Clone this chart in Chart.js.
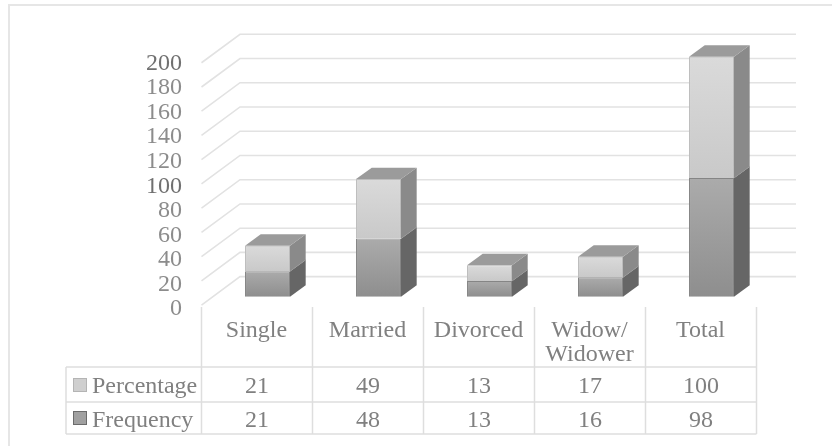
<!DOCTYPE html>
<html>
<head>
<meta charset="utf-8">
<title>Marital status</title>
<script src="https://cdn.jsdelivr.net/npm/chart.js@4/dist/chart.umd.min.js"></script>
<style>
  html, body { margin: 0; padding: 0; background: #fff; }
  #wrap { position: relative; width: 832px; height: 446px; overflow: hidden; }
  #frame { position: absolute; left: 8px; top: 4px; width: 900px; height: 500px; border: 2px solid #e6e6e6; box-sizing: border-box; }
  canvas { position: absolute; left: 0; top: 0; }
</style>
</head>
<body>
<div id="wrap">
  <div id="frame"></div>
  <canvas id="statusChart" width="832" height="446"></canvas>
</div>
<script>
const categories = ['Single', 'Married', 'Divorced', ['Widow/', 'Widower'], 'Total'];
const frequency = [21, 48, 13, 16, 98];
const percentage = [21, 49, 13, 17, 100];
const yTicks = [0, 20, 40, 60, 80, 100, 120, 140, 160, 180, 200];

const SERIF = '"Liberation Serif", serif';
const TEXT = '#808080';
const LINE = '#e2e2e2';

// box depth of the columns, and of the floor they stand on
const BAR_DX = 15.7, BAR_DY = 11.4;
const WALL_DX = 38.5, WALL_DY = 28.5;
const WALL_RIGHT = 796;

function stackGradient(context, values, below, colors) {
    const { chart, dataIndex } = context;
    const y = chart.scales.y;
    if (!y || y.bottom === undefined) return colors[0];
    const start = below ? below[dataIndex] : 0;
    const g = chart.ctx.createLinearGradient(0, y.getPixelForValue(start + values[dataIndex]), 0, y.getPixelForValue(start));
    g.addColorStop(0, colors[0]);
    g.addColorStop(1, colors[1]);
    return g;
}

function poly(ctx, pts, fill) {
    ctx.beginPath();
    pts.forEach((p, i) => i ? ctx.lineTo(p[0], p[1]) : ctx.moveTo(p[0], p[1]));
    ctx.closePath();
    ctx.fillStyle = fill;
    ctx.fill();
}

// back wall lines, running forward along the left side wall
const wallPlugin = {
    id: 'wall',
    beforeDatasetsDraw(chart) {
        const { ctx, scales } = chart;
        const left = scales.x.getPixelForValue(0) - 66;
        ctx.save();
        ctx.strokeStyle = LINE;
        ctx.lineWidth = 1.6;
        yTicks.forEach(v => {
            const backY = scales.y.getPixelForValue(v) - 20;
            ctx.beginPath();
            ctx.moveTo(left, backY + WALL_DY);
            ctx.lineTo(left + WALL_DX, backY);
            ctx.lineTo(WALL_RIGHT, backY);
            ctx.stroke();
        });
        ctx.restore();
    }
};

// side and top faces for each column
const boxPlugin = {
    id: 'box',
    afterDatasetsDraw(chart) {
        const ctx = chart.ctx;
        const sides = ['#666666', '#8a8a8a'];
        ctx.save();
        chart.data.datasets.forEach((ds, d) => {
            chart.getDatasetMeta(d).data.forEach(bar => {
                const r = bar.x + bar.width / 2, l = bar.x - bar.width / 2;
                poly(ctx, [[r, bar.y], [r + BAR_DX, bar.y - BAR_DY], [r + BAR_DX, bar.base - BAR_DY], [r, bar.base]], sides[d]);
                if (d === 1) {
                    poly(ctx, [[l, bar.y], [l + BAR_DX, bar.y - BAR_DY], [r + BAR_DX, bar.y - BAR_DY], [r, bar.y]], '#9b9b9b');
                } else {
                    // pale seam where the two segments meet
                    ctx.strokeStyle = '#a8a8a8';
                    ctx.lineWidth = 1;
                    ctx.beginPath();
                    ctx.moveTo(r, bar.y);
                    ctx.lineTo(r + BAR_DX, bar.y - BAR_DY);
                    ctx.stroke();
                }
            });
        });
        ctx.restore();
    }
};

// data table under the plot: header lines plus one row per series
const tablePlugin = {
    id: 'dataTable',
    afterDraw(chart) {
        const { ctx, scales } = chart;
        const step = scales.x.getPixelForValue(1) - scales.x.getPixelForValue(0);
        const colLeft = scales.x.getPixelForValue(0) - 66;
        const edges = categories.map((c, i) => colLeft + step * i);
        edges.push(colLeft + step * categories.length);

        const headTop = 307, r1 = 367, r2 = 402, r3 = 434, tableLeft = 66;

        ctx.save();
        ctx.strokeStyle = '#dedede';
        ctx.lineWidth = 1.5;
        ctx.beginPath();
        edges.forEach(x => { ctx.moveTo(x, headTop); ctx.lineTo(x, r3); });
        [r1, r2, r3].forEach(y => {
            ctx.moveTo(tableLeft, y);
            ctx.lineTo(edges[edges.length - 1], y);
        });
        ctx.moveTo(tableLeft, r1);
        ctx.lineTo(tableLeft, r3);
        ctx.stroke();

        ctx.font = '24px ' + SERIF;
        ctx.fillStyle = TEXT;
        ctx.textAlign = 'center';
        ctx.textBaseline = 'middle';
        [percentage, frequency].forEach((vals, row) => {
            const y = row ? 420.5 : 386.5;
            vals.forEach((v, i) => ctx.fillText(v, (edges[i] + edges[i + 1]) / 2, y));
        });

        ctx.textAlign = 'left';
        ctx.fillText('Percentage', 92, 386.5);
        ctx.fillText('Frequency', 92, 420.5);

        ctx.fillStyle = '#cfcfcf';
        ctx.strokeStyle = '#b4b4b4';
        ctx.lineWidth = 1;
        ctx.fillRect(73.5, 378.5, 13, 13);
        ctx.strokeRect(73.5, 378.5, 13, 13);
        ctx.fillStyle = '#a0a0a0';
        ctx.strokeStyle = '#6b6b6b';
        ctx.fillRect(73.5, 411.5, 13, 13);
        ctx.strokeRect(73.5, 411.5, 13, 13);
        ctx.restore();
    }
};

new Chart(document.getElementById('statusChart').getContext('2d'), {
    type: 'bar',
    data: {
        labels: categories,
        datasets: [
            {
                label: 'Frequency',
                data: frequency,
                backgroundColor: c => stackGradient(c, frequency, null, ['#ababab', '#8e8e8e']),
                borderColor: '#858585',
                borderWidth: 1
            },
            {
                label: 'Percentage',
                data: percentage,
                backgroundColor: c => stackGradient(c, percentage, frequency, ['#dadada', '#c9c9c9']),
                borderColor: '#bdbdbd',
                borderWidth: 1
            }
        ]
    },
    options: {
        responsive: false,
        animation: false,
        layout: { padding: { left: 0, right: 65, top: 30, bottom: 76 } },
        datasets: { bar: { categoryPercentage: 1, barPercentage: 0.405 } },
        scales: {
            x: {
                stacked: true,
                grid: { display: false },
                border: { display: false },
                afterFit: s => { s.height = 60; s.paddingLeft = 0; s.paddingRight = 0; },
                ticks: {
                    autoSkip: false,
                    maxRotation: 0,
                    minRotation: 0,
                    labelOffset: -11,
                    padding: 1,
                    color: TEXT,
                    font: { family: SERIF, size: 24, lineHeight: 1 }
                }
            },
            // plane of the columns: 0 sits at the base of the boxes
            y: {
                stacked: true,
                display: false,
                min: -11,
                max: 220
            },
            // the front edge of the floor carries the printed labels
            yFront: {
                position: 'left',
                min: -0.8,
                max: 227.2,
                grid: { display: false, drawTicks: false },
                border: { display: false },
                afterFit: s => { s.width = 212; s.paddingTop = 0; s.paddingBottom = 0; },
                afterBuildTicks: s => { s.ticks = yTicks.map(v => ({ value: v })); },
                ticks: {
                    autoSkip: false,
                    padding: 30,
                    color: c => (c.tick.value === 100 || c.tick.value === 200) ? '#707070' : '#8c8c8c',
                    font: { family: SERIF, size: 24 }
                }
            }
        },
        plugins: { legend: { display: false }, tooltip: { enabled: false } }
    },
    plugins: [wallPlugin, boxPlugin, tablePlugin]
});
</script>
</body>
</html>
